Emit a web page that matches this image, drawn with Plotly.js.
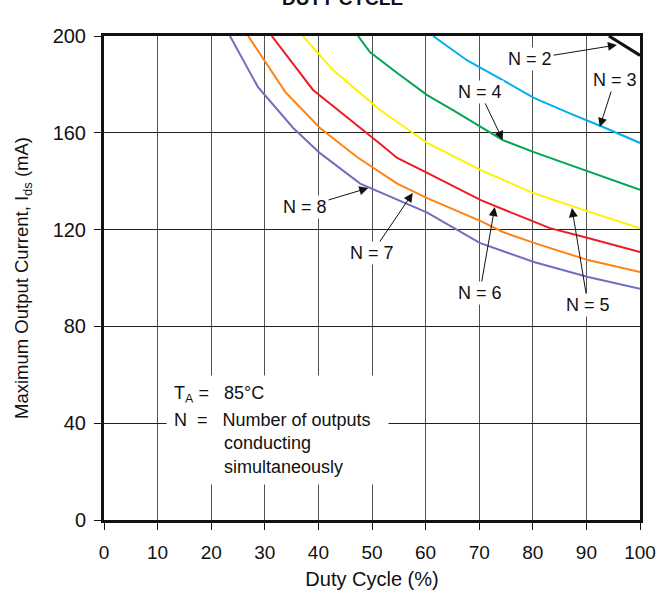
<!DOCTYPE html>
<html>
<head>
<meta charset="utf-8">
<script src="https://cdn.plot.ly/plotly-3.0.1.min.js"></script>
<style>html,body{margin:0;padding:0;background:#fff;}#chart{width:660px;height:597px;}</style>
</head>
<body>
<div id="chart"></div>
<script>
// Duty cycle (%) and maximum output current (mA) for N outputs conducting
const n1X = [94.2, 100];
const n1Y = [200, 192];
const n2X = [61.4, 67.7, 74.4, 80.2, 86.9, 93.1, 100];
const n2Y = [200, 190, 181.8, 174.4, 168, 162.4, 155.8];
const n4X = [47.4, 49.6, 54.7, 60.3, 65.1, 70.3, 74.4, 80.2, 86.9, 90.3, 100];
const n4Y = [200, 193.4, 184.7, 175.6, 169.4, 162.4, 157, 152, 146.7, 143.8, 136.4];
const n5X = [37.1, 42.7, 51.5, 60.3, 70.3, 80.2, 86.9, 100];
const n5Y = [200, 186, 169.4, 155.8, 144.6, 135, 130, 120.5];
const n6X = [31.3, 39, 51.5, 54.7, 60.3, 70.3, 76, 83.2, 90.3, 100];
const n6Y = [200, 177.7, 155.5, 149.6, 143.4, 132.2, 127, 120.6, 116.5, 110.7];
const n7X = [26.9, 33.8, 40.3, 47.2, 54.7, 60.3, 70.3, 74.4, 80.2, 90.3, 100];
const n7Y = [200, 176.9, 162, 150, 139, 133, 123.5, 119, 114.5, 107.4, 102.5];
const n8X = [23.5, 28.7, 35.3, 40.3, 47.8, 60.3, 70.1, 80.2, 90.3, 100];
const n8Y = [200, 179, 162, 151.6, 139, 127, 114.5, 106.6, 100.4, 95.5];

const xTicks = [0, 10, 20, 30, 40, 50, 60, 70, 80, 90, 100];
const yTicks = [0, 40, 80, 120, 160, 200];

const FONT = 'Liberation Sans, Arial, Helvetica, sans-serif';
const NB = '&nbsp;';

function line(x, y, color, name) {
  return {x: x, y: y, type: 'scatter', mode: 'lines', name: name,
          line: {color: color, width: 2}, hoverinfo: 'skip', cliponaxis: true};
}

const traces = [
  line(n8X, n8Y, '#6f6fbf', 'N = 8'),
  line(n7X, n7Y, '#ff8214', 'N = 7'),
  line(n6X, n6Y, '#ee1c24', 'N = 6'),
  line(n5X, n5Y, '#fff200', 'N = 5'),
  line(n4X, n4Y, '#00a651', 'N = 4'),
  line(n2X, n2Y, '#00b0f0', 'N = 3'),
  {x: n1X, y: n1Y, type: 'scatter', mode: 'lines', line: {color: '#111', width: 3}, hoverinfo: 'skip'}
];

function lab(text, tx, ty, hx, hy) {
  const a = {text: text, xref: 'x', yref: 'y', font: {family: FONT, size: 18, color: '#111'},
             bgcolor: '#fff', borderpad: 1};
  if (hx === undefined) {
    a.x = tx; a.y = ty; a.showarrow = false;
  } else {
    a.x = hx; a.y = hy; a.ax = tx; a.ay = ty; a.axref = 'x'; a.ayref = 'y';
    a.showarrow = true; a.arrowhead = 2; a.arrowsize = 1.8; a.arrowwidth = 1; a.arrowcolor = '#111';
  }
  return a;
}

const noteFont = {family: FONT, size: 18, color: '#111'};
const annotations = [
  lab('N = 1', 94.8, 208.7),
  lab('N = 2', 79.5, 190.5, 95.7, 196.3),
  lab('N = 3', 95.3, 181.8, 92.5, 162.4),
  lab('N = 4', 70.1, 176.9, 74.4, 157),
  lab('N = 5', 90.3, 88.8, 87.3, 128.9),
  lab('N = 6', 70.1, 93.8, 72.9, 129.3),
  lab('N = 7', 50, 110.3, 57.6, 135.1),
  lab('N = 8', 37.5, 129.3, 49.3, 137.2),
  {text: 'T<sub>A</sub> =' + NB.repeat(3) + '85°C' + NB.repeat(23), xref: 'x', yref: 'y', x: 11.6, y: 51.8,
   xanchor: 'left', yanchor: 'middle', align: 'left', showarrow: false,
   font: noteFont, bgcolor: '#fff', borderpad: 7},
  {text: 'N' + NB + NB + '=' + NB.repeat(3) + 'Number of outputs' + NB + NB + '<br>' + NB.repeat(10) + 'conducting<br>' + NB.repeat(10) + 'simultaneously',
   xref: 'x', yref: 'y', x: 11.6, y: 31.7,
   xanchor: 'left', yanchor: 'middle', align: 'left', showarrow: false,
   font: noteFont, bgcolor: '#fff', borderpad: 7},
  {text: '<b>DUTY CYCLE</b>', xref: 'paper', yref: 'paper', x: 0.445, y: 1.078,
   xanchor: 'center', yanchor: 'middle', showarrow: false,
   font: {family: FONT, size: 19, color: '#111'}}
];

const layout = {
  width: 660, height: 597,
  margin: {l: 104, r: 20, t: 36, b: 77},
  paper_bgcolor: '#fff', plot_bgcolor: '#fff',
  showlegend: false,
  font: {family: FONT, size: 18, color: '#111'},
  xaxis: {
    range: [0, 100], tickvals: xTicks, ticktext: xTicks.map(String),
    showgrid: true, gridcolor: '#505050', gridwidth: 1,
    showline: true, linecolor: '#111', linewidth: 3, mirror: true,
    ticks: 'outside', ticklen: 7, tickcolor: '#111', tickwidth: 1,
    ticklabelstandoff: 6,
    zeroline: false, tickfont: {family: FONT, size: 19, color: '#111'},
    title: {text: 'Duty Cycle (%)', font: {family: FONT, size: 20, color: '#111'}, standoff: 11}
  },
  yaxis: {
    range: [0, 200], tickvals: yTicks, ticktext: yTicks.map(String),
    showgrid: true, gridcolor: '#222', gridwidth: 1,
    showline: true, linecolor: '#111', linewidth: 3, mirror: true,
    ticks: 'outside', ticklen: 7, tickcolor: '#111', tickwidth: 1,
    ticklabelstandoff: 4,
    zeroline: false, tickfont: {family: FONT, size: 20, color: '#111'},
    title: {text: 'Maximum Output Current, I<sub>ds</sub> (mA)', font: {family: FONT, size: 18.5, color: '#111'}, standoff: 20}
  },
  annotations: annotations
};

Plotly.newPlot('chart', traces, layout, {displayModeBar: false, staticPlot: true});
</script>
</body>
</html>
